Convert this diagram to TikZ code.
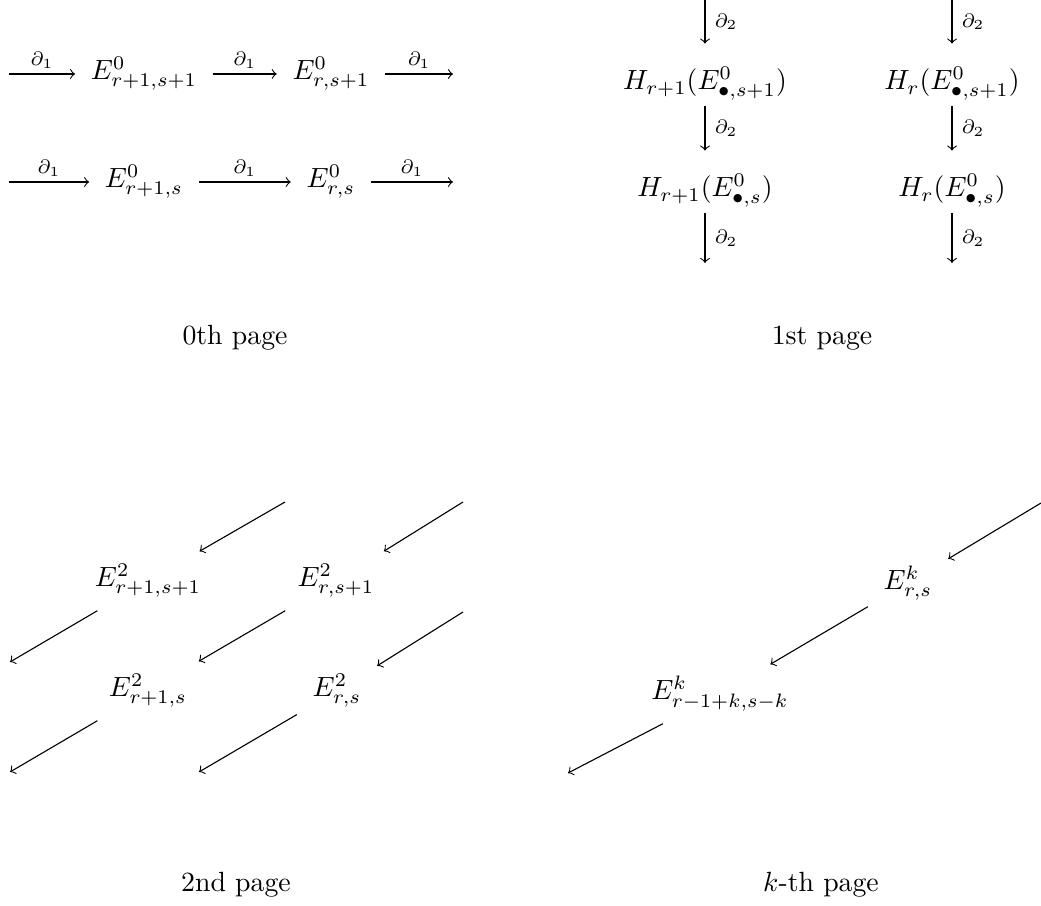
\documentclass[tikz,border=0pt]{standalone}
\begin{document}
\begin{tikzpicture}[x=0.36pt, y=-0.36pt,
    cell/.style={inner xsep=5.5pt, inner ysep=0pt, minimum height=21pt},
    hcell/.style={inner xsep=5.5pt, inner ysep=0pt, text height=16.5pt, text depth=5.5pt, anchor=base},
    lbl/.style={font=\scriptsize},
    hlbl/.style={lbl, above, inner sep=1.8pt},
    vlbl/.style={lbl, right},
    page/.style={anchor=base}]
    \useasboundingbox (0,0) rectangle (1041,906);
    % 0th page
    \node[cell] (e11) at (144,74) {$E^0_{r+1,s+1}$};
    \node[cell] (e01) at (331,74) {$E^0_{r,s+1}$};
    \node[cell] (e10) at (144,182) {$E^0_{r+1,s}$};
    \node[cell] (e00) at (331,182) {$E^0_{r,s}$};
    \coordinate (a1) at (9,74);
    \coordinate (b1) at (453,74);
    \coordinate (a0) at (9,182);
    \coordinate (b0) at (453,182);
    \draw[->] (a1) -- node[hlbl] {$\partial_1$} (e11);
    \draw[->] (e11) -- node[hlbl] {$\partial_1$} (e01);
    \draw[->] (e01) -- node[hlbl] {$\partial_1$} (b1);
    \draw[->] (a0) -- node[hlbl] {$\partial_1$} (e10);
    \draw[->] (e10) -- node[hlbl] {$\partial_1$} (e00);
    \draw[->] (e00) -- node[hlbl] {$\partial_1$} (b0);
    \node[page] (p0) at (235,345) {0th page};
    % 1st page
    \node[hcell] (h11) at (705,90) {$H_{r+1}(E^0_{\bullet,s+1})$};
    \node[hcell] (h01) at (952,90) {$H_r(E^0_{\bullet,s+1})$};
    \node[hcell] (h10) at (705,197) {$H_{r+1}(E^0_{\bullet,s})$};
    \node[hcell] (h00) at (952,197) {$H_r(E^0_{\bullet,s})$};
    \coordinate (u1) at (705,0);
    \coordinate (v1) at (705,263);
    \coordinate (u0) at (952,0);
    \coordinate (v0) at (952,263);
    \draw[->] (u1) -- node[vlbl] {$\partial_2$} (h11);
    \draw[->] (h11) -- node[vlbl] {$\partial_2$} (h10);
    \draw[->] (h10) -- node[vlbl] {$\partial_2$} (v1);
    \draw[->] (u0) -- node[vlbl] {$\partial_2$} (h01);
    \draw[->] (h01) -- node[vlbl] {$\partial_2$} (h00);
    \draw[->] (h00) -- node[vlbl] {$\partial_2$} (v0);
    \node[page] (p1) at (822,345) {1st page};
    % 2nd page
    \node[cell] (f11) at (148,581) {$E^2_{r+1,s+1}$};
    \node[cell] (f01) at (336,581) {$E^2_{r,s+1}$};
    \node[cell] (f10) at (148,691) {$E^2_{r+1,s}$};
    \node[cell] (f00) at (337,691) {$E^2_{r,s}$};
    \coordinate (t1) at (285,502);
    \coordinate (t0) at (463,502);
    \coordinate (m0) at (463,612);
    \coordinate (l1) at (10,662);
    \coordinate (l0) at (10,772);
    \coordinate (l2) at (199,772);
    \draw[->] (t1) -- (f11);
    \draw[->] (t0) -- (f01);
    \draw[->] (f11) -- (l1);
    \draw[->] (f01) -- (f10);
    \draw[->] (m0) -- (f00);
    \draw[->] (f10) -- (l0);
    \draw[->] (f00) -- (l2);
    \node[page] (p2) at (236,891) {2nd page};
    % k-th page
    \node[cell] (g1) at (908,583) {$E^k_{r,s}$};
    \node[cell] (g0) at (720,694) {$E^k_{r-1+k,s-k}$};
    \coordinate (k1) at (1041,503);
    \coordinate (k0) at (568,773);
    \draw[->] (k1) -- (g1);
    \draw[->] (g1) -- (g0);
    \draw[->] (g0) -- (k0);
    \node[page] (pk) at (821,891) {$k$-th page};
\end{tikzpicture}
\end{document}
